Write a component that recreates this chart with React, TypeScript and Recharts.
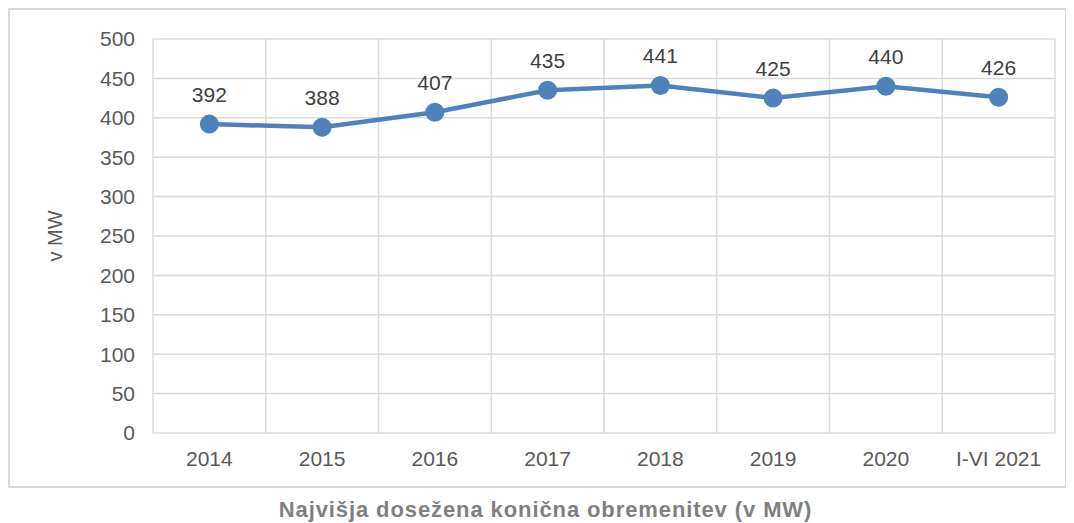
import React from 'react';
import { LineChart, Line, XAxis, YAxis, CartesianGrid, LabelList, Label } from 'recharts';

const categories = ['2014', '2015', '2016', '2017', '2018', '2019', '2020', 'I-VI 2021'];
const loadMW = [392, 388, 407, 435, 441, 425, 440, 426];
const yTicks = [0, 50, 100, 150, 200, 250, 300, 350, 400, 450, 500];
const yAxisTitle = 'v MW';
const chartTitle = 'Najvišja dosežena konična obremenitev (v MW)';

const data = categories.map((c, i) => ({ name: c, value: loadMW[i] }));

const FONT = '"Liberation Sans", Arial, sans-serif';
const LINE_COLOR = '#4f81bd';
const GRID_COLOR = '#d9d9d9';
const TEXT_COLOR = '#595959';

const CHART_W = 1055;
const MARGIN_RIGHT = 10;
const Y_AXIS_W = 143;
const PLOT_W = CHART_W - MARGIN_RIGHT - Y_AXIS_W;
const HALF_BAND = PLOT_W / categories.length / 2;

const verticalGen = (props: any) => {
  const { offset } = props;
  const n = categories.length;
  const out: number[] = [];
  for (let i = 0; i <= n; i++) out.push(offset.left + (i * offset.width) / n);
  return out;
};

const YTitle = (props: any) => {
  const vb = props.viewBox;
  const x = vb.x + 45;
  const y = vb.y + vb.height / 2;
  return (
    <text
      x={x}
      y={y}
      transform={`rotate(-90 ${x} ${y})`}
      textAnchor="middle"
      dominantBaseline="central"
      fill={TEXT_COLOR}
      fontSize={20}
      fontFamily={FONT}
    >
      {yAxisTitle}
    </text>
  );
};

export default function App() {
  return (
    <div style={{ fontFamily: FONT }}>
      <div
        style={{
          width: CHART_W,
          height: 476,
          border: `2px solid ${GRID_COLOR}`,
          background: '#fff',
        }}
      >
        <LineChart width={CHART_W} height={476} data={data} margin={{ top: 29, right: MARGIN_RIGHT, left: 0, bottom: 0 }}>
          <CartesianGrid
            stroke={GRID_COLOR}
            strokeWidth={1.5}
            verticalCoordinatesGenerator={verticalGen}
          />
          <XAxis
            dataKey="name"
            height={53}
            axisLine={false}
            tickLine={false}
            tickSize={0}
            tickMargin={18}
            interval={0}
            padding={{ left: HALF_BAND, right: HALF_BAND }}
            tick={{ fill: TEXT_COLOR, fontSize: 21, fontFamily: FONT }}
          />
          <YAxis
            width={Y_AXIS_W}
            domain={[0, 500]}
            ticks={yTicks}
            axisLine={false}
            tickLine={false}
            tickSize={0}
            tickMargin={18}
            interval={0}
            tick={{ fill: TEXT_COLOR, fontSize: 21, fontFamily: FONT }}
          >
            <Label content={<YTitle />} />
          </YAxis>
          <Line
            type="linear"
            dataKey="value"
            stroke={LINE_COLOR}
            strokeWidth={4.5}
            dot={{ r: 9.5, fill: LINE_COLOR, stroke: 'none' }}
            activeDot={false}
            isAnimationActive={false}
          >
            <LabelList
              dataKey="value"
              position="top"
              offset={22}
              fill="#404040"
              fontSize={21}
              fontFamily={FONT}
            />
          </Line>
        </LineChart>
      </div>
      <div
        style={{
          marginTop: 10,
          width: 1059,
          paddingLeft: 16,
          boxSizing: 'border-box',
          textAlign: 'center',
          fontSize: 22,
          letterSpacing: 0.9,
          lineHeight: '24px',
          fontWeight: 'bold',
          color: '#7f7f7f',
        }}
      >
        {chartTitle}
      </div>
    </div>
  );
}
